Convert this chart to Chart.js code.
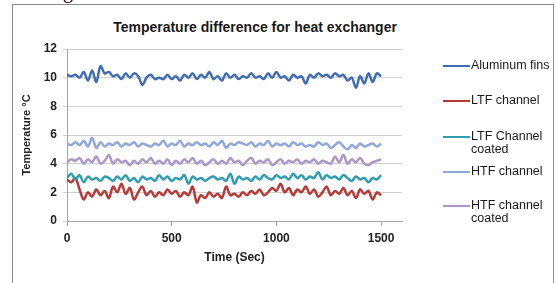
<!DOCTYPE html>
<html>
<head>
<meta charset="utf-8">
<script src="https://cdn.jsdelivr.net/npm/chart.js@4"></script>
<style>
  body { margin: 0; background: #fff; }
  #wrap { position: relative; width: 556px; height: 283px; overflow: hidden; font-family: "Liberation Sans", Arial, sans-serif; }
  #frame { position: absolute; left: 12px; top: 4px; width: 540px; height: 300px; border: 1px solid #8a8a8a; }
  #cap { position: absolute; left: 63px; top: -20px; font: 20px "Liberation Serif", serif; color: #111; }
  #title { position: absolute; left: 0; width: 510px; top: 19px; text-align: center; font-weight: bold; font-size: 14px; color: #1a1a1a; }
  canvas { position: absolute; left: 0; top: 0; }
  .lg { position: absolute; left: 443px; font-size: 12.5px; color: #1a1a1a; line-height: 13px; }
  .lg i { position: absolute; left: 0; top: 6px; width: 27px; height: 2px; }
  .lg span { display: block; margin-left: 28px; }
</style>
</head>
<body>
<div id="wrap">
  <div id="frame"></div>
  <div id="cap">g</div>
  <div id="title">Temperature difference for heat exchanger</div>
  <canvas id="grafica" width="556" height="283"></canvas>
  <div id="legend"></div>
</div>
<script>
// =========================
// DATOS
// =========================
const tiempo = [0, 20, 40, 60, 80, 100, 120, 140, 160, 180, 200, 220, 240, 260, 280, 300,
  320, 340, 360, 380, 400, 420, 440, 460, 480, 500, 520, 540, 560, 580, 600, 620, 640, 660,
  680, 700, 720, 740, 760, 780, 800, 820, 840, 860, 880, 900, 920, 940, 960, 980, 1000,
  1020, 1040, 1060, 1080, 1100, 1120, 1140, 1160, 1180, 1200, 1220, 1240, 1260, 1280, 1300,
  1320, 1340, 1360, 1380, 1400, 1420, 1440, 1460, 1480, 1500];

const aluminumFins = [10.2, 10.1, 10.2, 10.0, 10.4, 9.8, 10.5, 9.7, 10.8, 10.3, 10.4, 10.1, 10.2, 9.9, 10.3, 10.0,
  10.3, 10.1, 9.5, 10.0, 10.2, 9.9, 10.0, 9.9, 10.2, 9.9, 10.1, 9.8, 10.2, 10.0, 10.3, 9.9, 10.2, 10.0,
  10.4, 9.9, 10.1, 9.8, 10.3, 10.0, 10.2, 9.9, 10.1, 10.0, 10.3, 10.0, 10.1, 9.9, 10.3, 10.0, 10.4,
  10.0, 10.1, 9.8, 10.2, 10.0, 10.1, 9.6, 10.2, 10.0, 10.3, 10.1, 10.2, 10.0, 10.3, 10.1,
  10.2, 9.8, 10.0, 9.3, 10.1, 9.6, 10.3, 9.7, 10.3, 10.1];

const ltfChannel = [2.9, 2.7, 3.0, 2.2, 1.5, 2.0, 1.7, 2.2, 1.8, 2.1, 1.6, 2.4, 2.0, 2.6, 1.9, 2.3,
  1.5, 2.0, 2.4, 1.8, 2.1, 1.7, 2.0, 1.8, 2.2, 1.9, 2.1, 1.7, 2.0, 1.8, 2.4, 1.3, 1.8, 1.6,
  2.0, 1.7, 1.9, 1.6, 2.4, 1.8, 1.9, 1.7, 2.0, 1.8, 2.1, 1.9, 2.2, 1.8, 2.0, 2.3, 2.1,
  2.6, 2.0, 2.3, 1.8, 2.2, 2.0, 2.4, 1.9, 2.2, 1.7, 2.0, 2.4, 1.8, 2.1, 1.9,
  2.3, 1.8, 2.1, 1.6, 2.2, 1.9, 2.1, 1.5, 2.0, 1.8];

const ltfCoated = [3.0, 3.3, 2.9, 3.2, 2.7, 3.1, 2.9, 3.0, 2.8, 3.1, 3.0, 2.8, 3.1, 2.9, 3.2, 2.8,
  3.0, 2.7, 3.1, 2.9, 3.0, 2.8, 3.2, 2.9, 3.1, 2.8, 3.0, 2.9, 3.2, 2.6, 3.1, 2.9, 3.0, 2.8,
  3.0, 3.1, 2.9, 3.0, 2.8, 3.3, 2.6, 3.1, 2.9, 3.0, 2.8, 3.1, 2.9, 3.2, 3.0, 2.9, 3.2,
  3.0, 3.1, 2.9, 3.3, 3.0, 3.2, 2.9, 3.1, 3.0, 3.4, 2.9, 3.2, 3.0, 3.1, 2.9,
  3.2, 3.0, 2.8, 3.1, 2.9, 3.0, 2.7, 3.0, 2.9, 3.2];

const htfChannel = [5.4, 5.3, 5.5, 5.3, 5.6, 5.2, 5.8, 5.1, 5.5, 5.2, 5.4, 5.3, 5.5, 5.2, 5.4, 5.3,
  5.5, 5.2, 5.4, 5.3, 5.2, 5.4, 5.3, 5.6, 5.2, 5.4, 5.3, 5.6, 5.2, 5.4, 5.3, 5.5, 5.3, 5.4,
  5.2, 5.5, 5.3, 5.6, 5.1, 5.4, 5.3, 5.5, 5.4, 5.3, 5.5, 5.2, 5.4, 5.3, 5.6, 5.2, 5.4,
  5.3, 5.4, 5.2, 5.5, 5.3, 5.4, 5.2, 5.3, 5.2, 5.5, 5.3, 5.4, 5.1, 5.3, 5.5,
  5.2, 5.0, 5.3, 5.1, 5.4, 5.2, 5.3, 5.4, 5.2, 5.4];

const htfCoated = [4.1, 4.3, 4.2, 4.4, 4.0, 4.3, 4.1, 4.5, 4.0, 4.2, 4.6, 4.0, 4.3, 4.1, 4.2, 3.9,
  4.2, 4.0, 4.3, 4.1, 4.4, 4.0, 4.2, 4.0, 4.3, 3.9, 4.2, 4.0, 4.3, 4.1, 4.4, 4.0, 4.2, 3.9,
  4.1, 4.3, 4.0, 4.2, 4.0, 4.4, 4.1, 4.2, 3.9, 4.2, 4.4, 4.0, 4.2, 4.1, 4.3, 3.9, 4.1,
  4.3, 4.0, 4.2, 4.1, 4.3, 4.0, 4.2, 4.1, 4.3, 4.0, 4.2, 4.1, 4.0, 4.5, 4.1,
  4.6, 4.0, 4.3, 4.1, 4.4, 4.0, 3.9, 4.1, 4.2, 4.3];

const yTicks = [0, 2, 4, 6, 8, 10, 12];
const xTicks = [0, 500, 1000, 1500];

const series = [
  { nombre: ["Aluminum fins"], datos: aluminumFins, color: "#3f6db4", top: 59 },
  { nombre: ["LTF channel"], datos: ltfChannel, color: "#b63b37", top: 94 },
  { nombre: ["LTF Channel", "coated"], datos: ltfCoated, color: "#2f9db0", top: 130 },
  { nombre: ["HTF channel"], datos: htfChannel, color: "#8fa7d9", top: 165 },
  { nombre: ["HTF channel", "coated"], datos: htfCoated, color: "#a997ca", top: 199 }
];

// =========================
// LEYENDA
// =========================
const leyenda = document.getElementById("legend");
series.forEach(s => {
  const d = document.createElement("div");
  d.className = "lg";
  d.style.top = s.top + "px";
  d.innerHTML = '<i style="background:' + s.color + '"></i><span>' + s.nombre.join("<br>") + "</span>";
  leyenda.appendChild(d);
});

// =========================
// GRÁFICA
// =========================
const ctx = document.getElementById("grafica").getContext("2d");
const fuente = { family: "Liberation Sans", size: 12, weight: "bold" };

new Chart(ctx, {
  type: "line",
  data: {
    datasets: series.map(s => ({
      label: s.nombre.join(" "),
      data: tiempo.map((t, i) => ({ x: t, y: s.datos[i] })),
      borderColor: s.color,
      borderWidth: 2.5,
      pointRadius: 0,
      tension: 0.35
    })).reverse()
  },
  options: {
    responsive: false,
    animation: false,
    layout: { padding: { left: 16, right: 154, top: 49, bottom: 14 } },
    plugins: { legend: { display: false }, title: { display: false }, tooltip: { enabled: false } },
    scales: {
      x: {
        type: "linear",
        min: 0,
        max: 1600,
        afterFit: s => { s.height = 48; },
        afterBuildTicks: s => { s.ticks = xTicks.map(v => ({ value: v })); },
        ticks: { padding: 5, color: "#222", font: fuente, callback: v => String(v) },
        grid: { drawOnChartArea: false, drawTicks: true, tickLength: 5, color: "#a6a6a6" },
        border: { color: "#a6a6a6" },
        title: { display: true, text: "Time (Sec)", color: "#222", font: fuente }
      },
      y: {
        min: 0,
        max: 12,
        afterFit: s => { s.width = 51; },
        afterBuildTicks: s => { s.ticks = yTicks.map(v => ({ value: v })); },
        ticks: { padding: 6, color: "#222", font: fuente },
        grid: { color: "#cfcfcf", tickLength: 4 },
        border: { color: "#a6a6a6" },
        title: { display: true, text: "Temperature °C", color: "#222", font: { family: "Liberation Sans", size: 11, weight: "bold" } }
      }
    }
  }
});
</script>
</body>
</html>
